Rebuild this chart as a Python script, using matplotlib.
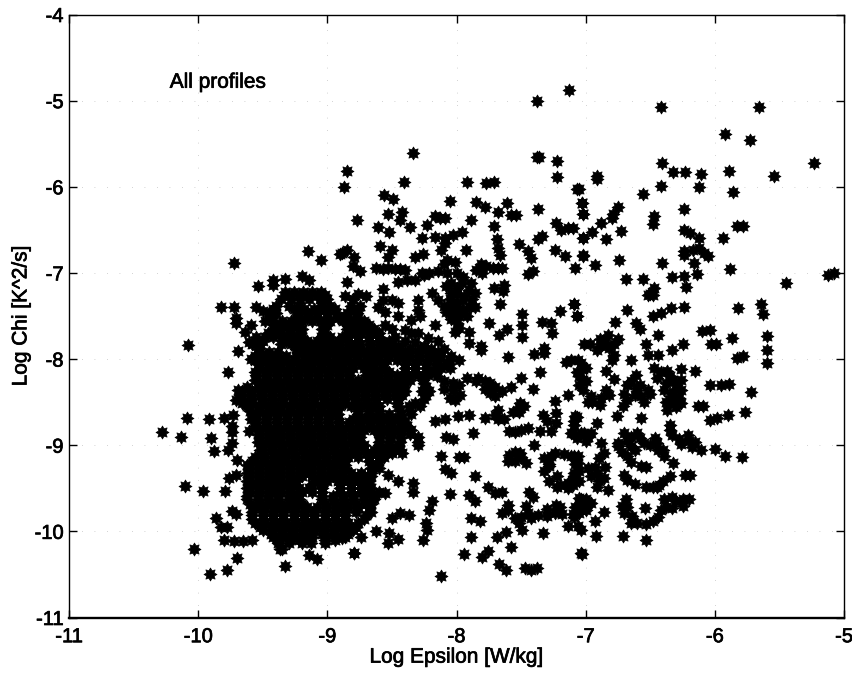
import matplotlib
matplotlib.use("Agg")
import matplotlib.pyplot as plt
import matplotlib.patheffects as pe
from matplotlib.path import Path
import numpy as np

# values: (log epsilon, log chi)
left_edge = [
    (-10.28, -8.85), (-10.13, -8.91), (-9.90, -8.92), (-9.88, -9.07), (-10.10, -9.47), (-9.96, -9.53),
    (-9.79, -9.53), (-10.03, -10.20), (-9.91, -10.49), (-9.78, -10.45), (-9.70, -10.31), (-9.33, -10.40),
    (-9.08, -10.32), (-9.14, -10.27), (-8.79, -10.25), (-9.86, -9.85), (-9.82, -9.95), (-9.78, -9.95),
    (-9.74, -9.76), (-9.71, -9.80), (-9.80, -10.10), (-9.72, -10.11), (-9.65, -10.11), (-9.58, -10.10),
    (-9.76, -9.38), (-9.71, -9.34), (-9.70, -9.17), (-9.77, -9.05), (-9.74, -8.85), (-9.74, -8.97),
    (-9.72, -6.89), (-9.54, -7.15), (-9.42, -7.08), (-9.42, -7.14), (-9.33, -7.07), (-9.20, -7.03),
    (-9.14, -7.08), (-9.05, -6.85), (-9.15, -6.75), (-8.90, -6.78), (-9.82, -7.39), (-9.72, -7.40),
    (-9.71, -7.52), (-9.71, -7.58), (-9.55, -7.39), (-9.50, -7.44), (-10.08, -7.84), (-9.69, -7.91),
    (-9.59, -8.00), (-9.59, -7.60), (-9.61, -7.80), (-9.77, -8.15), (-9.69, -8.36), (-9.71, -8.47),
    (-10.09, -8.68), (-9.92, -8.69), (-9.80, -8.68), (-9.73, -8.65), (-9.59, -8.70), (-9.61, -8.84),
    (-9.74, -8.78), (-9.62, -8.52), (-9.64, -7.68),
]

# dense blob, one row per chi level
core_rows = [
    (-7.22, [-9.33, -9.26, -9.19, -9.12, -9.05]),
    (-7.30, [-9.36, -9.28, -9.21, -9.14, -9.06, -9.00]),
    (-7.38, [-9.40, -9.30, -9.22, -9.05, -8.98, -8.82, -8.75]),
    (-7.47, [-9.45, -9.40, -9.22, -9.15, -9.08, -9.00, -8.93, -8.85, -8.77]),
    (-7.56, [-9.48, -9.42, -9.35, -9.28, -9.20, -9.12, -9.05, -8.98, -8.88, -8.80, -8.72]),
    (-7.65, [-9.42, -9.36, -9.28, -9.20, -9.04, -8.85, -8.78, -8.70, -8.64]),
    (-7.74, [-9.55, -9.48, -9.42, -9.35, -9.27, -9.20, -9.05, -8.98, -8.85, -8.76, -8.68, -8.60]),
    (-7.83, [-9.58, -9.52, -9.36, -9.28, -9.20, -9.13, -9.05, -8.97, -8.90, -8.82, -8.75, -8.66, -8.58, -8.50]),
    (-7.92, [-9.52, -9.45, -9.38, -9.20, -9.12, -9.05, -8.96, -8.88, -8.80, -8.72, -8.64, -8.56, -8.48, -8.40, -8.30, -8.22, -8.14]),
    (-8.01, [-9.56, -9.50, -9.42, -9.34, -9.26, -9.18, -9.10, -9.02, -8.94, -8.86, -8.78, -8.70, -8.62, -8.54, -8.46, -8.38, -8.30, -8.22, -8.14, -8.05, -7.98]),
    (-8.10, [-9.52, -9.44, -9.36, -9.28, -9.20, -9.12, -9.04, -8.96, -8.88, -8.80, -8.72, -8.64, -8.56, -8.40, -8.32, -8.24, -8.16, -8.12]),
    (-8.19, [-9.55, -9.47, -9.39, -9.31, -9.23, -9.15, -9.07, -8.99, -8.91, -8.83, -8.70, -8.62, -8.54, -8.46, -8.38, -8.30, -8.22]),
    (-8.28, [-9.52, -9.44, -9.36, -9.28, -9.20, -9.12, -9.04, -8.96, -8.88, -8.80, -8.72, -8.64, -8.56, -8.48, -8.40, -8.25]),
    (-8.37, [-9.66, -9.58, -9.50, -9.42, -9.34, -9.26, -9.18, -9.10, -9.02, -8.94, -8.86, -8.78, -8.70, -8.62, -8.54, -8.46, -8.40, -8.27, -8.21]),
    (-8.46, [-9.66, -9.58, -9.50, -9.42, -9.34, -9.26, -9.18, -9.10, -9.02, -8.94, -8.86, -8.78, -8.70, -8.62, -8.54, -8.45, -8.25]),
    (-8.55, [-9.62, -9.54, -9.46, -9.38, -9.30, -9.22, -9.14, -9.06, -8.98, -8.90, -8.82, -8.74, -8.66, -8.60, -8.45, -8.37, -8.28]),
    (-8.64, [-9.55, -9.47, -9.39, -9.31, -9.23, -9.15, -9.07, -8.99, -8.92, -8.76, -8.68, -8.60, -8.52, -8.43, -8.35]),
    (-8.73, [-9.55, -9.47, -9.39, -9.31, -9.23, -9.15, -9.07, -8.99, -8.91, -8.83, -8.75, -8.67, -8.59, -8.51, -8.40]),
    (-8.82, [-9.52, -9.44, -9.36, -9.28, -9.20, -9.12, -9.04, -8.96, -8.88, -8.80, -8.72, -8.64, -8.56, -8.48, -8.42, -8.35]),
    (-8.91, [-9.52, -9.44, -9.36, -9.28, -9.20, -9.12, -9.04, -8.96, -8.88, -8.80, -8.75, -8.59, -8.51, -8.43, -8.30]),
    (-9.00, [-9.50, -9.42, -9.34, -9.26, -9.18, -9.10, -9.02, -8.94, -8.86, -8.78, -8.72, -8.60, -8.52, -8.45, -8.30]),
    (-9.09, [-9.50, -9.42, -9.34, -9.26, -9.18, -9.10, -9.02, -8.94, -8.86, -8.78, -8.70, -8.62, -8.54, -8.50, -8.42]),
    (-9.18, [-9.58, -9.50, -9.42, -9.34, -9.26, -9.18, -9.10, -9.02, -8.94, -8.86, -8.68, -8.60]),
    (-9.27, [-9.60, -9.52, -9.44, -9.36, -9.28, -9.20, -9.12, -9.04, -8.96, -8.86, -8.66, -8.60]),
    (-9.36, [-9.60, -9.52, -9.44, -9.36, -9.28, -9.20, -9.12, -9.04, -8.96, -8.88, -8.80, -8.72, -8.66]),
    (-9.45, [-9.58, -9.50, -9.42, -9.34, -9.26, -9.12, -9.04, -8.90, -8.82, -8.74, -8.68]),
    (-9.54, [-9.60, -9.52, -9.44, -9.36, -9.28, -9.20, -9.12, -9.04, -8.90, -8.82, -8.74, -8.68, -8.60]),
    (-9.63, [-9.62, -9.54, -9.46, -9.38, -9.30, -9.22, -9.04, -8.96, -8.88, -8.80, -8.72, -8.64]),
    (-9.72, [-9.56, -9.48, -9.40, -9.32, -9.24, -9.16, -9.08, -9.00, -8.92, -8.84, -8.76, -8.68]),
    (-9.81, [-9.58, -9.50, -9.42, -9.34, -9.26, -9.18, -9.10, -9.02, -8.94, -8.86, -8.70]),
    (-9.90, [-9.56, -9.48, -9.40, -9.32, -9.24, -9.16, -9.08, -9.00, -8.92, -8.84, -8.76]),
    (-9.99, [-9.50, -9.42, -9.34, -9.26, -9.18, -9.10, -9.02, -8.94, -8.86, -8.80]),
    (-10.07, [-9.42, -9.34, -9.26, -9.18, -9.12, -9.02, -8.94, -8.86]),
    (-10.14, [-9.38, -9.30, -9.20, -9.13, -9.02]),
    (-10.20, [-9.37, -9.35]),
]

# same blob, the points lying between the rows above
core_rows_between = [
    (-7.26, [-9.30, -9.22, -9.16, -9.08, -9.02]),
    (-7.42, [-9.42, -9.26, -9.18, -9.10, -9.02, -8.94, -8.80]),
    (-7.52, [-9.44, -9.24, -9.16, -9.08, -9.00, -8.92, -8.84, -8.76]),
    (-7.61, [-9.40, -9.32, -9.24, -9.00, -8.84, -8.76, -8.68]),
    (-7.70, [-9.46, -9.38, -9.30, -9.22, -9.02, -8.82, -8.74, -8.66]),
    (-7.79, [-9.50, -9.32, -9.24, -9.16, -9.08, -9.00, -8.92, -8.84, -8.76, -8.68, -8.60, -8.52]),
    (-7.88, [-9.54, -9.24, -9.16, -9.08, -9.00, -8.92, -8.84, -8.76, -8.68, -8.60, -8.52, -8.44, -8.36, -8.28, -8.20, -8.10]),
    (-7.97, [-9.56, -9.48, -9.40, -9.32, -9.24, -9.16, -9.08, -9.00, -8.92, -8.84, -8.76, -8.68, -8.60, -8.52, -8.44, -8.36, -8.28, -8.20, -8.12, -8.04]),
    (-8.06, [-9.54, -9.46, -9.38, -9.30, -9.22, -9.14, -9.06, -8.98, -8.90, -8.82, -8.74, -8.66, -8.58, -8.40, -8.32, -8.24, -8.16, -8.08]),
    (-8.15, [-9.56, -9.48, -9.40, -9.32, -9.24, -9.16, -9.08, -9.00, -8.92, -8.84, -8.68, -8.60, -8.52, -8.40, -8.32, -8.24, -8.20]),
    (-8.24, [-9.56, -9.48, -9.40, -9.32, -9.24, -9.16, -9.08, -9.00, -8.92, -8.84, -8.76, -8.68, -8.60, -8.52, -8.44, -8.36, -8.26]),
    (-8.33, [-9.62, -9.54, -9.46, -9.38, -9.30, -9.22, -9.14, -9.06, -8.98, -8.90, -8.82, -8.74, -8.66, -8.58, -8.50, -8.42, -8.24]),
    (-8.42, [-9.68, -9.60, -9.52, -9.44, -9.36, -9.28, -9.20, -9.12, -9.04, -8.96, -8.88, -8.80, -8.72, -8.64, -8.56, -8.48, -8.42, -8.24]),
    (-8.51, [-9.66, -9.58, -9.50, -9.42, -9.34, -9.26, -9.18, -9.10, -9.02, -8.94, -8.86, -8.78, -8.70, -8.62, -8.46, -8.32]),
    (-8.60, [-9.60, -9.52, -9.44, -9.36, -9.28, -9.20, -9.12, -9.04, -8.96, -8.76, -8.68, -8.60, -8.44, -8.36]),
    (-8.69, [-9.56, -9.48, -9.40, -9.32, -9.24, -9.16, -9.08, -9.00, -8.92, -8.80, -8.72, -8.64, -8.56, -8.48, -8.42]),
    (-8.78, [-9.56, -9.48, -9.40, -9.32, -9.24, -9.16, -9.08, -9.00, -8.92, -8.84, -8.76, -8.68, -8.60, -8.52, -8.44, -8.38]),
    (-8.87, [-9.54, -9.46, -9.38, -9.30, -9.22, -9.14, -9.06, -8.98, -8.90, -8.82, -8.76, -8.60, -8.52, -8.44, -8.36]),
    (-8.96, [-9.54, -9.46, -9.38, -9.30, -9.22, -9.14, -9.06, -8.98, -8.90, -8.82, -8.76, -8.60, -8.52, -8.44, -8.30]),
    (-9.05, [-9.52, -9.44, -9.36, -9.28, -9.20, -9.12, -9.04, -8.96, -8.88, -8.80, -8.72, -8.64, -8.56, -8.48, -8.44]),
    (-9.14, [-9.56, -9.48, -9.40, -9.32, -9.24, -9.16, -9.08, -9.00, -8.92, -8.84, -8.76, -8.68, -8.60, -8.56]),
    (-9.23, [-9.62, -9.54, -9.46, -9.38, -9.30, -9.22, -9.14, -9.06, -8.98, -8.90, -8.86, -8.62]),
    (-9.32, [-9.62, -9.54, -9.46, -9.38, -9.30, -9.22, -9.14, -9.06, -8.98, -8.90, -8.82, -8.74, -8.66]),
    (-9.41, [-9.62, -9.54, -9.46, -9.38, -9.30, -9.24, -9.08, -9.00, -8.92, -8.84, -8.76, -8.68]),
    (-9.50, [-9.62, -9.54, -9.46, -9.38, -9.30, -9.22, -9.14, -9.04, -8.90, -8.82, -8.74, -8.66]),
    (-9.59, [-9.62, -9.54, -9.46, -9.38, -9.30, -9.24, -9.04, -8.96, -8.88, -8.80, -8.72, -8.64]),
    (-9.68, [-9.60, -9.52, -9.44, -9.36, -9.28, -9.20, -9.02, -8.94, -8.86, -8.78, -8.70, -8.66]),
    (-9.77, [-9.58, -9.50, -9.42, -9.34, -9.26, -9.18, -9.10, -9.02, -8.94, -8.86, -8.78, -8.66]),
    (-9.86, [-9.58, -9.50, -9.42, -9.34, -9.26, -9.18, -9.10, -9.02, -8.94, -8.86, -8.72]),
    (-9.95, [-9.52, -9.44, -9.36, -9.28, -9.20, -9.12, -9.04, -8.96, -8.88, -8.78]),
    (-10.03, [-9.44, -9.36, -9.28, -9.20, -9.12, -9.04, -8.96, -8.88, -8.84]),
    (-10.10, [-9.38, -9.30, -9.22, -9.14, -9.02, -8.94]),
]

center_top = [
    (-8.34, -5.61), (-8.85, -5.82), (-8.87, -6.00), (-8.41, -5.95), (-7.92, -5.94), (-7.77, -5.96),
    (-7.71, -5.94), (-7.38, -5.66), (-7.36, -5.66), (-7.22, -5.70), (-7.22, -5.89), (-7.07, -6.03),
    (-8.56, -6.10), (-8.49, -6.14), (-8.05, -6.16), (-7.85, -6.18), (-7.78, -6.23), (-7.61, -6.19),
    (-7.68, -6.29), (-7.58, -6.33), (-7.54, -6.33), (-7.37, -6.26), (-7.03, -6.19), (-7.02, -6.32),
    (-8.77, -6.39), (-8.53, -6.32), (-8.42, -6.29), (-8.44, -6.39), (-8.61, -6.47), (-8.52, -6.52),
    (-8.36, -6.47), (-8.23, -6.44), (-8.17, -6.34), (-8.13, -6.36), (-8.09, -6.36), (-7.89, -6.39),
    (-7.96, -6.52), (-8.03, -6.56), (-7.71, -6.45), (-7.23, -6.42), (-7.19, -6.50), (-7.14, -6.48),
    (-7.10, -6.48), (-7.02, -6.59), (-8.27, -6.60), (-8.17, -6.58), (-8.09, -6.59), (-8.59, -6.69),
    (-8.50, -6.73), (-8.53, -6.81), (-8.32, -6.81), (-8.26, -6.78), (-7.93, -6.73), (-7.69, -6.61),
    (-7.68, -6.71), (-7.66, -6.79), (-7.52, -6.66), (-7.45, -6.75), (-7.42, -6.83), (-7.34, -6.57),
    (-7.37, -6.61), (-7.24, -6.73), (-7.16, -6.80), (-7.02, -6.80), (-7.08, -6.94), (-8.85, -6.73),
    (-8.79, -6.81), (-8.89, -6.77), (-8.80, -6.92), (-8.75, -6.98), (-8.62, -6.94), (-8.53, -6.94),
    (-8.44, -6.95), (-8.21, -7.00), (-8.14, -6.98), (-8.12, -6.73), (-8.09, -6.65), (-8.07, -6.85),
    (-8.01, -6.87), (-7.81, -6.90), (-7.72, -6.94), (-7.65, -6.94), (-7.45, -7.01), (-7.41, -6.98),
    (-8.85, -7.10), (-8.32, -7.08), (-8.45, -7.10), (-8.57, -7.19), (-8.04, -7.12), (-7.96, -7.12),
    (-7.89, -7.12), (-8.07, -7.00), (-7.63, -7.14), (-7.71, -7.17), (-7.64, -7.21), (-8.86, -7.27),
    (-8.76, -7.25), (-8.57, -7.31), (-8.45, -7.35), (-8.30, -7.31), (-8.30, -7.43), (-8.19, -7.23),
    (-8.14, -7.31), (-8.04, -7.23), (-7.94, -7.27), (-7.86, -7.23), (-8.04, -7.39), (-7.95, -7.43),
    (-7.86, -7.39), (-7.66, -7.36), (-7.09, -7.36), (-7.20, -7.44), (-7.07, -7.50), (-7.49, -7.48),
    (-7.34, -7.57), (-7.27, -7.58), (-7.75, -7.58), (-7.49, -7.60), (-7.49, -7.74), (-7.26, -7.70),
    (-7.61, -7.65), (-7.67, -7.72), (-8.04, -7.54), (-8.17, -7.60), (-8.01, -7.68), (-7.90, -7.68),
    (-8.14, -7.79), (-7.90, -7.81), (-7.81, -7.85), (-8.76, -7.43), (-8.86, -7.50), (-8.71, -7.58),
    (-8.84, -7.62), (-8.89, -7.74), (-8.61, -7.39), (-8.50, -7.31), (-8.40, -7.66), (-8.48, -7.74),
    (-8.30, -7.70), (-8.40, -7.79), (-8.56, -7.81), (-8.22, -7.75), (-8.25, -7.85), (-7.32, -7.87),
    (-7.01, -7.83), (-8.00, -7.25), (-8.00, -7.35), (-8.08, -7.45), (-7.98, -7.50),
]

center_low = [
    (-7.60, -7.98), (-7.40, -7.94), (-7.32, -7.93), (-7.81, -7.89), (-7.35, -8.15), (-7.15, -8.03),
    (-7.06, -8.01), (-7.02, -8.12), (-7.02, -8.24), (-7.50, -8.22), (-7.41, -8.35), (-7.14, -8.42),
    (-7.24, -8.49), (-7.58, -8.32), (-7.65, -8.37), (-7.74, -8.28), (-7.74, -8.39), (-7.83, -8.22),
    (-7.92, -8.22), (-8.03, -8.36), (-8.01, -8.47), (-7.51, -8.51), (-7.52, -8.61), (-7.68, -8.59),
    (-7.68, -8.70), (-7.90, -8.65), (-7.78, -8.68), (-7.33, -8.65), (-7.23, -8.63), (-7.23, -8.74),
    (-7.08, -8.66), (-7.09, -8.76), (-7.59, -8.84), (-7.50, -8.82), (-7.35, -8.84), (-7.27, -8.84),
    (-7.11, -8.86), (-7.01, -8.86), (-7.87, -8.86), (-7.99, -8.66), (-8.09, -8.70), (-8.17, -8.72),
    (-8.08, -8.90), (-8.03, -8.93), (-7.40, -9.00), (-8.12, -9.12), (-7.98, -9.14), (-7.94, -9.14),
    (-7.59, -9.11), (-7.51, -9.09), (-7.46, -9.21), (-7.32, -9.15), (-7.24, -9.09), (-7.11, -9.13),
    (-7.06, -9.21), (-7.32, -9.30), (-7.22, -9.36), (-7.14, -9.44), (-7.22, -9.48), (-7.09, -9.36),
    (-8.09, -9.28), (-8.04, -9.32), (-7.86, -9.36), (-7.76, -9.48), (-7.65, -9.54), (-7.70, -9.56),
    (-7.44, -9.54), (-7.41, -9.60), (-8.45, -9.42), (-8.53, -9.34), (-8.34, -9.44), (-8.34, -9.54),
    (-8.55, -9.56), (-8.05, -9.57), (-7.90, -9.58), (-7.86, -9.65), (-8.19, -9.65), (-8.21, -9.75),
    (-7.60, -9.69), (-7.65, -9.79), (-7.46, -9.71), (-7.45, -9.79), (-7.37, -9.81), (-7.23, -9.69),
    (-7.24, -9.79), (-7.05, -9.61), (-7.05, -9.79), (-7.89, -9.85), (-7.82, -9.88), (-8.37, -9.81),
    (-8.44, -9.79), (-8.50, -9.85), (-8.24, -9.90), (-8.23, -9.98), (-7.49, -9.98), (-7.52, -9.90),
    (-7.62, -10.01), (-7.69, -10.07), (-7.33, -10.02), (-7.14, -9.94), (-7.06, -9.94), (-8.62, -10.00),
    (-8.74, -10.07), (-8.89, -10.08), (-8.52, -10.02), (-8.45, -10.09), (-8.53, -10.14), (-8.26, -10.10),
    (-7.89, -10.06), (-7.58, -10.18), (-8.79, -10.25), (-7.94, -10.26), (-7.76, -10.23), (-7.80, -10.30),
    (-7.67, -10.38), (-7.62, -10.45), (-7.47, -10.43), (-7.42, -10.45), (-7.38, -10.43), (-7.03, -10.26),
    (-8.12, -10.52),
]

right_top = [
    (-6.42, -5.07), (-5.66, -5.07), (-5.92, -5.39), (-5.73, -5.46), (-5.23, -5.72), (-6.41, -5.72),
    (-6.91, -5.87), (-6.91, -5.91), (-6.32, -5.83), (-6.23, -5.83), (-6.11, -5.85), (-5.89, -5.82),
    (-5.54, -5.88), (-6.42, -5.99), (-6.12, -6.00), (-5.86, -6.06), (-6.56, -6.08), (-7.05, -6.03),
    (-7.03, -6.19), (-7.02, -6.32), (-6.75, -6.23), (-6.79, -6.32), (-6.80, -6.36), (-6.88, -6.42),
    (-6.95, -6.53), (-7.02, -6.59), (-6.73, -6.51), (-6.84, -6.61), (-6.47, -6.34), (-6.48, -6.43),
    (-6.24, -6.26), (-6.24, -6.50), (-6.19, -6.54), (-6.12, -6.59), (-5.94, -6.59), (-5.83, -6.46),
    (-5.78, -6.46), (-6.24, -6.75), (-6.17, -6.73), (-6.24, -6.79), (-6.12, -6.71), (-6.05, -6.80),
    (-6.08, -6.77), (-7.02, -6.79), (-6.93, -6.91), (-6.74, -6.85), (-6.41, -6.88), (-6.16, -6.88),
    (-6.14, -7.01), (-6.24, -7.03), (-6.33, -7.05), (-5.88, -6.96), (-6.56, -7.07), (-6.69, -7.07),
    (-6.47, -7.17), (-6.50, -7.25), (-6.22, -7.16), (-5.45, -7.12), (-5.12, -7.02), (-5.08, -7.00),
    (-7.13, -4.88), (-7.38, -5.00),
]

right_low = [
    (-7.09, -7.36), (-7.07, -7.50), (-6.52, -7.26), (-6.48, -7.26), (-6.68, -7.43), (-6.77, -7.57),
    (-6.61, -7.58), (-6.58, -7.65), (-6.48, -7.50), (-6.42, -7.46), (-6.34, -7.41), (-6.24, -7.39),
    (-5.82, -7.41), (-5.64, -7.36), (-5.63, -7.48), (-6.44, -7.72), (-6.10, -7.67), (-6.04, -7.66),
    (-6.03, -7.83), (-5.99, -7.83), (-5.87, -7.76), (-5.60, -7.73), (-5.60, -7.90), (-5.60, -8.05),
    (-5.83, -7.99), (-5.78, -7.97), (-6.25, -7.82), (-6.33, -7.89), (-6.53, -7.83), (-6.52, -7.95),
    (-6.44, -7.95), (-6.83, -7.72), (-6.75, -7.77), (-6.89, -7.77), (-6.97, -7.83), (-6.91, -7.89),
    (-6.82, -7.87), (-6.80, -8.01), (-6.65, -8.01), (-7.11, -8.01), (-7.04, -8.05), (-7.05, -8.20),
    (-7.02, -8.36), (-6.96, -8.43), (-6.84, -8.14), (-6.78, -8.23), (-6.84, -8.36), (-6.89, -8.53),
    (-6.61, -8.18), (-6.68, -8.30), (-6.52, -8.36), (-6.61, -8.34), (-6.68, -8.47), (-6.57, -8.43),
    (-6.47, -8.10), (-6.37, -8.14), (-6.26, -8.12), (-6.32, -8.24), (-6.26, -8.36), (-6.34, -8.43),
    (-6.26, -8.51), (-6.37, -8.59), (-6.39, -8.36), (-6.32, -8.50), (-6.26, -8.24), (-6.15, -8.14),
    (-6.04, -8.30), (-5.95, -8.30), (-5.89, -8.29), (-5.72, -8.38), (-6.13, -8.55), (-6.09, -8.55),
    (-5.77, -8.62), (-5.90, -8.65), (-5.98, -8.68), (-6.04, -8.71), (-6.76, -8.66), (-6.57, -8.68),
    (-6.71, -8.55), (-7.07, -8.67), (-7.09, -8.72), (-6.91, -8.74), (-6.35, -8.76), (-6.33, -8.88),
    (-6.21, -8.88), (-6.15, -8.96), (-6.11, -9.05), (-6.00, -9.04), (-5.92, -9.12), (-5.79, -9.14),
    (-6.26, -8.99), (-6.70, -8.86), (-6.60, -8.86), (-6.46, -8.92), (-6.75, -9.01), (-6.65, -9.01),
    (-6.55, -8.98), (-6.65, -8.90), (-6.44, -9.05), (-6.39, -9.13), (-6.32, -9.21), (-6.65, -9.19),
    (-6.53, -9.25), (-6.23, -9.34), (-6.19, -9.34), (-6.35, -9.36), (-6.43, -9.46), (-6.53, -9.49),
    (-6.68, -9.40), (-6.83, -9.52), (-6.91, -9.32), (-6.86, -9.09), (-6.96, -9.36), (-6.91, -9.48),
    (-7.09, -9.13), (-7.09, -9.32), (-7.11, -9.44), (-7.04, -8.86), (-6.96, -8.86), (-7.10, -8.86),
    (-6.88, -8.97), (-7.04, -9.63), (-7.04, -9.75), (-7.09, -9.83), (-6.96, -9.67), (-6.86, -9.77),
    (-6.93, -9.88), (-7.04, -9.98), (-6.92, -10.05), (-7.04, -10.25), (-6.71, -10.05), (-6.53, -10.10),
    (-6.69, -9.63), (-6.70, -9.79), (-6.65, -9.90), (-6.53, -9.92), (-6.54, -9.73), (-6.39, -9.63),
    (-6.44, -9.83), (-6.25, -9.63), (-6.33, -9.73),
]

# points that join the clumps in the middle of the chart
center_clumps = [
    (-8.10, -6.90), (-8.00, -7.00), (-7.95, -7.05), (-8.08, -7.15), (-8.00, -7.18), (-7.90, -7.20),
    (-8.05, -7.30), (-7.95, -7.32), (-7.88, -7.30), (-8.10, -7.38), (-7.98, -7.42), (-7.90, -7.40),
    (-8.02, -7.48), (-7.92, -7.50), (-8.00, -7.58), (-7.98, -7.64), (-8.38, -7.08), (-8.25, -7.02),
    (-8.27, -7.00), (-8.80, -7.30), (-8.70, -7.27), (-8.57, -6.95), (-8.48, -6.95), (-8.40, -6.97),
    (-7.77, -6.92), (-7.68, -6.94), (-7.85, -6.97), (-7.80, -7.00), (-8.55, -7.45), (-8.45, -7.50),
    (-8.35, -7.55), (-8.28, -7.50), (-8.55, -7.60), (-8.50, -7.65), (-8.35, -7.70), (-8.45, -7.85),
    (-8.32, -7.80), (-8.60, -7.70), (-8.15, -8.20), (-8.05, -8.10), (-8.10, -8.25), (-8.10, -8.35),
    (-8.03, -8.28), (-7.98, -8.30), (-7.85, -8.25), (-7.78, -8.25), (-7.70, -8.33), (-7.78, -8.35),
    (-7.70, -8.43), (-8.05, -8.45), (-7.97, -8.42), (-7.52, -8.56), (-7.56, -8.62), (-7.48, -8.55),
    (-7.55, -8.85), (-7.45, -8.80), (-7.70, -8.65), (-7.63, -8.70), (-7.30, -8.72), (-7.55, -9.08),
    (-7.55, -9.18), (-7.50, -9.14), (-7.60, -9.18), (-7.27, -9.12), (-7.17, -9.10), (-7.06, -9.13),
    (-7.28, -9.22), (-7.05, -9.30), (-7.28, -9.42), (-7.20, -9.46), (-7.10, -9.46), (-7.14, -9.50),
    (-7.28, -9.24), (-7.05, -9.42), (-7.60, -9.75), (-7.55, -9.85), (-7.50, -9.83), (-7.42, -9.85),
    (-7.30, -9.82), (-7.30, -9.74), (-7.20, -9.72), (-7.18, -9.80), (-7.05, -9.68), (-7.00, -9.72),
    (-7.10, -9.80),
]

# points that join the clumps on the right
right_clumps = [
    (-6.85, -7.80), (-6.78, -7.82), (-6.88, -7.85), (-6.78, -7.95), (-6.35, -8.20), (-6.30, -8.30),
    (-6.38, -8.28), (-6.28, -8.45), (-6.32, -8.38), (-6.38, -8.50), (-6.30, -8.56), (-6.45, -8.22),
    (-6.42, -8.15), (-6.65, -8.25), (-6.58, -8.30), (-6.62, -8.42), (-6.70, -8.40), (-6.50, -8.40),
    (-6.55, -8.50), (-6.75, -8.97), (-6.68, -8.95), (-6.58, -8.92), (-6.50, -9.00), (-6.62, -9.06),
    (-6.72, -9.08), (-6.45, -8.97), (-6.40, -9.05), (-6.68, -9.13), (-6.35, -8.82), (-6.28, -8.93),
    (-6.20, -8.95), (-6.18, -9.02), (-6.98, -8.90), (-7.00, -8.95), (-7.07, -8.92), (-6.90, -9.15),
    (-6.93, -9.25), (-6.85, -9.25), (-6.98, -9.26), (-6.86, -9.38), (-6.90, -9.42), (-7.08, -9.22),
    (-7.10, -9.40), (-6.70, -9.35), (-6.62, -9.45), (-6.48, -9.48), (-6.45, -9.48), (-6.57, -9.24),
    (-6.40, -9.42), (-7.08, -9.72), (-7.00, -9.62), (-7.00, -9.75), (-6.68, -9.72), (-6.64, -9.82),
    (-6.72, -9.70), (-6.60, -9.90), (-6.48, -9.88), (-6.42, -9.75), (-6.38, -9.72), (-6.30, -9.65),
    (-6.25, -9.70), (-6.33, -9.60), (-6.20, -9.62), (-7.00, -8.10), (-7.00, -8.25), (-7.07, -8.15),
    (-7.05, -8.30), (-6.98, -8.50), (-6.95, -8.50), (-6.88, -8.45), (-6.82, -8.42),
]

x_ticks = [-11, -10, -9, -8, -7, -6, -5]
y_ticks = [-11, -10, -9, -8, -7, -6, -5, -4]

plt.rcParams["font.family"] = ["Liberation Sans", "DejaVu Sans"]
plt.rcParams["axes.unicode_minus"] = False

core = [(x, y) for y, row in core_rows + core_rows_between for x in row]
pts = np.array(left_edge + core + center_top + center_low + right_top + right_low + center_clumps + right_clumps)

W, H = 853, 674
fig = plt.figure(figsize=(W / 100, H / 100), dpi=100)
ax = fig.add_axes([69 / W, 1 - 617.5 / H, 775 / W, 603 / H])

# fat eight point star, close to the scanned asterisks
star = Path.unit_regular_star(8, innerCircle=0.62)
ax.scatter(pts[:, 0], pts[:, 1], marker=star, s=88, color="black", linewidths=0.5, zorder=3)

ax.set_xlim(-11, -5)
ax.set_ylim(-11, -4)
ax.set_xticks(x_ticks)
ax.set_yticks(y_ticks)
ax.tick_params(direction="in", top=True, right=True, length=6, width=1, labelsize=14.5)
ax.tick_params(axis="x", pad=7)
ax.tick_params(axis="y", pad=4)
ax.grid(True, color="#c4c4c4", linewidth=0.6, linestyle=(0, (1, 14)))
ax.set_axisbelow(True)
for side in ("left", "right", "top"):
    ax.spines[side].set_linewidth(1.0)
ax.spines["bottom"].set_linewidth(1.7)

ax.set_xlabel("Log Epsilon [W/kg]", fontsize=15, labelpad=1)
ax.set_ylabel("Log Chi [K^2/s]", fontsize=15, labelpad=3)
ax.text(-10.22, -4.85, "All profiles", fontsize=15)

# scan makes the type look heavier than regular weight
for t in ax.get_xticklabels() + ax.get_yticklabels() + ax.texts + [ax.xaxis.label, ax.yaxis.label]:
    t.set_path_effects([pe.withStroke(linewidth=0.5, foreground="black")])

fig.savefig("out.png", dpi=100)
